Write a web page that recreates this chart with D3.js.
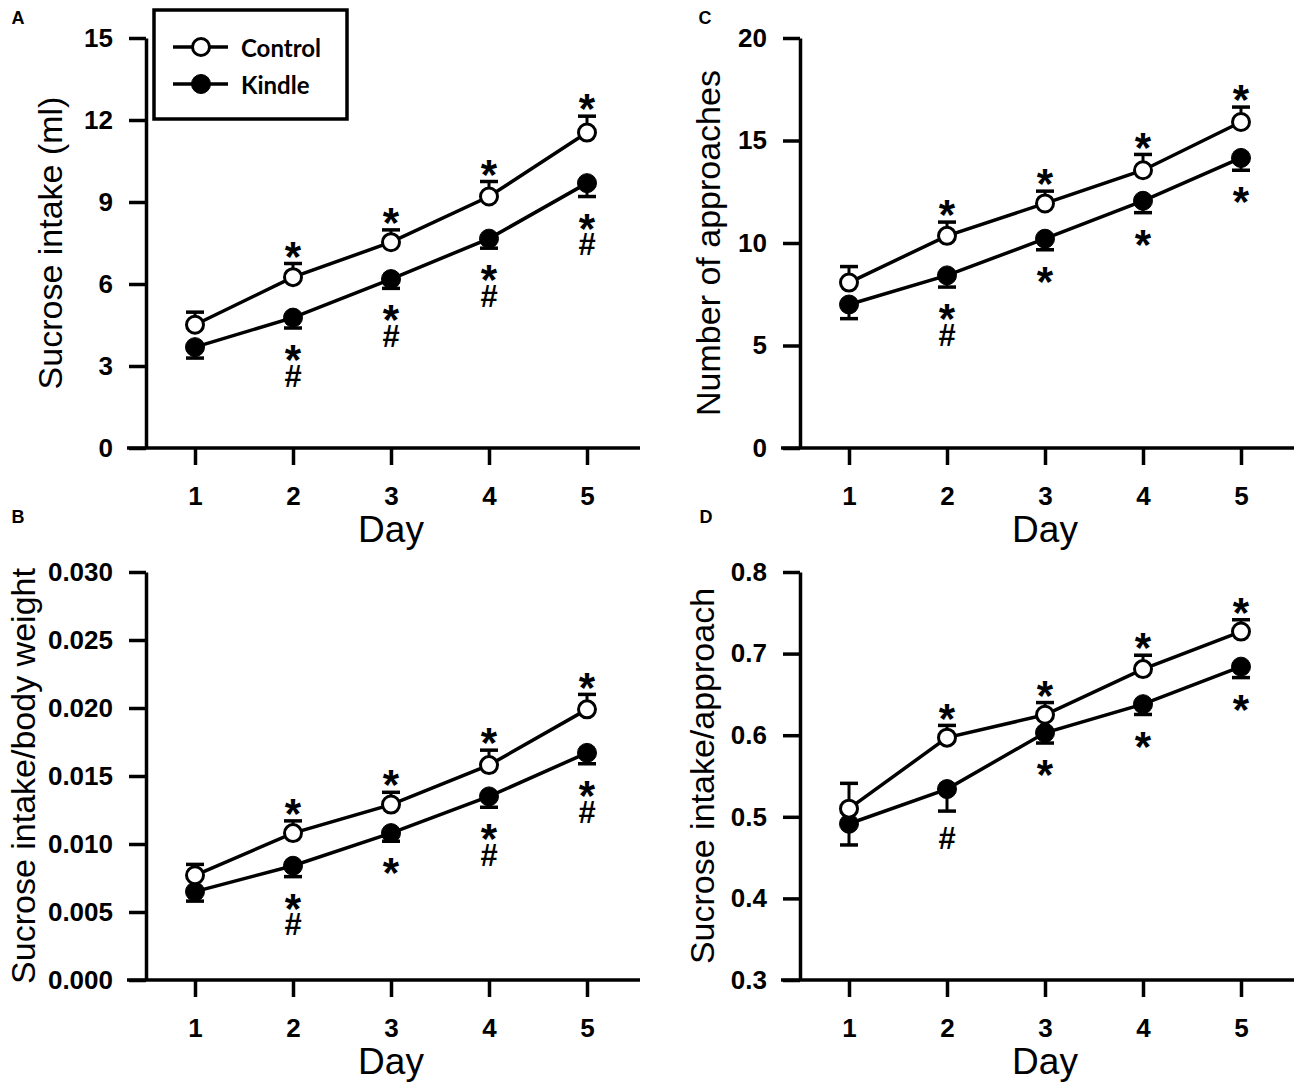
<!DOCTYPE html>
<html><head><meta charset="utf-8">
<script src="https://cdn.jsdelivr.net/npm/d3@7/dist/d3.min.js"></script>
<style>
html,body{margin:0;padding:0;background:#fff;}
svg{display:block;}
</style></head>
<body>
<svg id="chart" width="1300" height="1089"></svg>
<script>
// ---------- DATA ----------
const days = [1, 2, 3, 4, 5];
const seriesNames = ["Control", "Kindle"];

// Panel A: Sucrose intake (ml)
const intakeTicks = [0, 3, 6, 9, 12, 15];
const intakeControl = [4.51, 6.25, 7.53, 9.2, 11.54];
const intakeControlErr = [0.46, 0.5, 0.45, 0.55, 0.6];
const intakeKindle = [3.69, 4.77, 6.18, 7.66, 9.69];
const intakeKindleErr = [0.4, 0.38, 0.34, 0.35, 0.49];
const intakeSigControl = ["", "*", "*", "*", "*"];
const intakeSigKindle = ["", "*#", "*#", "*#", "*#"];

// Panel B: Sucrose intake/body weight
const bwTicks = [0, 0.005, 0.01, 0.015, 0.02, 0.025, 0.03];
const bwControl = [0.0077, 0.0108, 0.0129, 0.0158, 0.0199];
const bwControlErr = [0.0008, 0.0009, 0.0009, 0.0011, 0.0011];
const bwKindle = [0.0065, 0.0084, 0.0108, 0.0135, 0.0167];
const bwKindleErr = [0.0007, 0.0008, 0.0006, 0.0008, 0.0008];
const bwSigControl = ["", "*", "*", "*", "*"];
const bwSigKindle = ["", "*#", "*", "*#", "*#"];

// Panel C: Number of approaches
const apprTicks = [0, 5, 10, 15, 20];
const apprControl = [8.07, 10.35, 11.93, 13.55, 15.9];
const apprControlErr = [0.78, 0.67, 0.6, 0.77, 0.73];
const apprKindle = [7.0, 8.42, 10.21, 12.06, 14.15];
const apprKindleErr = [0.69, 0.57, 0.54, 0.58, 0.6];
const apprSigControl = ["", "*", "*", "*", "*"];
const apprSigKindle = ["", "*#", "*", "*", "*"];

// Panel D: Sucrose intake/approach
const ipaTicks = [0.3, 0.4, 0.5, 0.6, 0.7, 0.8];
const ipaControl = [0.51, 0.597, 0.625, 0.681, 0.727];
const ipaControlErr = [0.031, 0.015, 0.015, 0.017, 0.0145];
const ipaKindle = [0.4915, 0.534, 0.603, 0.638, 0.684];
const ipaKindleErr = [0.026, 0.027, 0.0126, 0.0126, 0.0134];
const ipaSigControl = ["", "*", "*", "*", "*"];
const ipaSigKindle = ["", "#", "*", "*", "*"];

// ---------- PANELS ----------
const panels = [
  {letter: "A", lx: 18, ly: 18, ax: 146, top: 38, bottom: 448, ticks: intakeTicks, fmt: d3.format("d"),
   label: "Sucrose intake (ml)", labelOff: 96,
   c: intakeControl, ce: intakeControlErr, k: intakeKindle, ke: intakeKindleErr,
   cs: intakeSigControl, ks: intakeSigKindle, legend: true},
  {letter: "B", lx: 18, ly: 517, ax: 146, top: 572, bottom: 980, ticks: bwTicks, fmt: d3.format(".3f"),
   label: "Sucrose intake/body weight", labelOff: 123,
   c: bwControl, ce: bwControlErr, k: bwKindle, ke: bwKindleErr,
   cs: bwSigControl, ks: bwSigKindle},
  {letter: "C", lx: 705, ly: 18, ax: 800, top: 38, bottom: 448, ticks: apprTicks, fmt: d3.format("d"),
   label: "Number of approaches", labelOff: 92,
   c: apprControl, ce: apprControlErr, k: apprKindle, ke: apprKindleErr,
   cs: apprSigControl, ks: apprSigKindle},
  {letter: "D", lx: 706, ly: 517, ax: 800, top: 572, bottom: 980, ticks: ipaTicks, fmt: d3.format(".1f"),
   label: "Sucrose intake/approach", labelOff: 98,
   c: ipaControl, ce: ipaControlErr, k: ipaKindle, ke: ipaKindleErr,
   cs: ipaSigControl, ks: ipaSigKindle}
];

const svg = d3.select("#chart");
const AXW = 3.5;
const TICKFONT = "'Liberation Sans', Arial, sans-serif";
const STAR_FS = 42, HASH_FS = 31;

panels.forEach(p => {
  const g = svg.append("g");
  const x = d3.scaleLinear().domain([0.5, 5.5]).range([p.ax, p.ax + 490]);
  const y = d3.scaleLinear().domain([p.ticks[0], p.ticks[p.ticks.length - 1]]).range([p.bottom, p.top]);

  // Panel letter
  g.append("text").attr("x", p.lx).attr("y", p.ly)
    .attr("text-anchor", "middle").attr("dominant-baseline", "central")
    .attr("font-family", TICKFONT).attr("font-weight", "bold").attr("font-size", 18)
    .text(p.letter);

  // Y axis
  const yAxis = d3.axisLeft(y).tickValues(p.ticks).tickFormat(p.fmt)
    .tickSize(17).tickSizeOuter(0).tickPadding(16);
  const yg = g.append("g").attr("transform", `translate(${p.ax},0)`).call(yAxis);
  yg.select(".domain").attr("stroke-width", AXW);
  yg.selectAll(".tick line").attr("stroke-width", AXW);
  yg.selectAll(".tick text").attr("font-family", TICKFONT).attr("font-weight", "bold")
    .attr("font-size", 26).attr("fill", "#000");

  // X axis
  const xAxis = d3.axisBottom(x).tickValues(days).tickFormat(d3.format("d"))
    .tickSize(17).tickSizeOuter(0).tickPadding(22);
  const xg = g.append("g").attr("transform", `translate(0,${p.bottom})`).call(xAxis);
  xg.select(".domain").remove();
  xg.selectAll(".tick line").attr("stroke-width", AXW);
  xg.selectAll(".tick text").attr("font-family", TICKFONT).attr("font-weight", "bold")
    .attr("font-size", 26).attr("fill", "#000");
  g.append("line").attr("x1", p.ax - 19).attr("x2", p.ax + 494)
    .attr("y1", p.bottom).attr("y2", p.bottom)
    .attr("stroke", "#000").attr("stroke-width", AXW);

  // Axis titles
  g.append("text").attr("x", x(3)).attr("y", p.bottom + 81)
    .attr("text-anchor", "middle").attr("dominant-baseline", "central")
    .attr("font-family", TICKFONT).attr("font-size", 37).text("Day");
  g.append("text")
    .attr("transform", `translate(${p.ax - p.labelOff},${(p.top + p.bottom) / 2}) rotate(-90)`)
    .attr("text-anchor", "middle").attr("dominant-baseline", "central")
    .attr("font-family", TICKFONT).attr("font-size", 34).text(p.label);

  const line = d3.line().x((d, i) => x(days[i])).y(d => y(d));

  // Lines
  [p.k, p.c].forEach(vals => {
    g.append("path").attr("d", line(vals)).attr("fill", "none")
      .attr("stroke", "#000").attr("stroke-width", 3.5);
  });

  // Error bars: control up, kindle down
  const errs = [
    {vals: p.c, e: p.ce, dir: 1},
    {vals: p.k, e: p.ke, dir: -1}
  ];
  errs.forEach(s => {
    s.vals.forEach((v, i) => {
      const cx = x(days[i]);
      const yc = y(v + s.dir * s.e[i]);
      g.append("line").attr("x1", cx).attr("x2", cx).attr("y1", y(v)).attr("y2", yc)
        .attr("stroke", "#000").attr("stroke-width", 3);
      g.append("line").attr("x1", cx - 9).attr("x2", cx + 9).attr("y1", yc).attr("y2", yc)
        .attr("stroke", "#000").attr("stroke-width", 3.5);
    });
  });

  // Markers
  p.k.forEach((v, i) => {
    g.append("circle").attr("cx", x(days[i])).attr("cy", y(v)).attr("r", 9.5)
      .attr("fill", "#000").attr("stroke", "#000").attr("stroke-width", 1);
  });
  p.c.forEach((v, i) => {
    g.append("circle").attr("cx", x(days[i])).attr("cy", y(v)).attr("r", 8.5)
      .attr("fill", "#fff").attr("stroke", "#000").attr("stroke-width", 3);
  });

  // Significance marks (one text element per stack)
  function baselineFor(ch, center) {
    return ch === "*" ? center + 0.55 * STAR_FS : center + 0.35 * HASH_FS;
  }
  function stack(cx, centers, chars) {
    const t = g.append("text").attr("text-anchor", "middle")
      .attr("font-family", TICKFONT).attr("font-weight", "bold");
    chars.forEach((ch, j) => {
      t.append("tspan").attr("x", cx).attr("y", baselineFor(ch, centers[j]))
        .attr("font-size", ch === "*" ? STAR_FS : HASH_FS).text(ch);
    });
  }
  p.cs.forEach((s, i) => {
    if (!s) return;
    const cap = y(p.c[i] + p.ce[i]);
    stack(x(days[i]), [cap - 16], s.split(""));
  });
  p.ks.forEach((s, i) => {
    if (!s) return;
    const cap = y(p.k[i] - p.ke[i]);
    const chars = s.split("");
    const centers = chars.map((ch, j) => j === 0 ? cap + (ch === "#" ? 27 : 23) : cap + 48);
    stack(x(days[i]), centers, chars);
  });

  // Legend
  if (p.legend) {
    const lg = g.append("g");
    lg.append("rect").attr("x", 154).attr("y", 10).attr("width", 193).attr("height", 109)
      .attr("fill", "#fff").attr("stroke", "#000").attr("stroke-width", 3.5);
    const rows = [{name: seriesNames[0], fill: "#fff", y: 47}, {name: seriesNames[1], fill: "#000", y: 84}];
    rows.forEach(r => {
      lg.append("line").attr("x1", 173).attr("x2", 228).attr("y1", r.y).attr("y2", r.y)
        .attr("stroke", "#000").attr("stroke-width", 3.5);
      lg.append("circle").attr("cx", 201).attr("cy", r.y).attr("r", r.fill === "#fff" ? 8.5 : 9.5)
        .attr("fill", r.fill).attr("stroke", "#000").attr("stroke-width", r.fill === "#fff" ? 3 : 1);
      lg.append("text").attr("x", 241).attr("y", r.y).attr("dominant-baseline", "central")
        .attr("font-family", "Lato, 'Open Sans', sans-serif").attr("font-weight", "bold")
        .attr("font-size", 24).text(r.name);
    });
  }
});
</script>
</body></html>
